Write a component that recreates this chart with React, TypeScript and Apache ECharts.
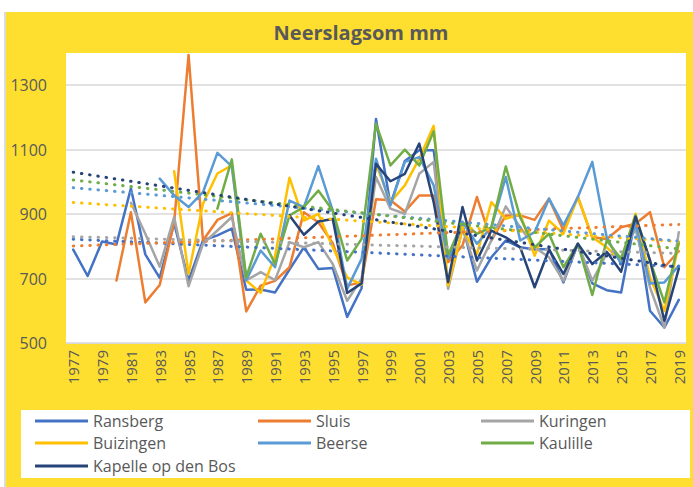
import React, { useEffect, useRef } from "react";
import * as echarts from "echarts";

const years: string[] = [
  "1977","1978","1979","1980","1981","1982","1983","1984","1985","1986",
  "1987","1988","1989","1990","1991","1992","1993","1994","1995","1996",
  "1997","1998","1999","2000","2001","2002","2003","2004","2005","2006",
  "2007","2008","2009","2010","2011","2012","2013","2014","2015","2016",
  "2017","2018","2019",
];

const seriesNames: string[] = ["Ransberg", "Sluis", "Kuringen", "Buizingen", "Beerse", "Kaulille", "Kapelle op den Bos"];
const seriesColors: string[] = ["#4472C4", "#ED7D31", "#A5A5A5", "#FFC000", "#5B9BD5", "#70AD47", "#264478"];

const ransberg: (number | null)[] = [
  790, 708, 815, 806, 980, 775, 702, 872, 694, 818,
  834, 855, 665, 666, 657, 728, 797, 730, 733, 581,
  670, 1195, 930, 1065, 1098, 1098, 752, 865, 690, 766,
  818, 797, 790, 792, 688, 808, 685, 664, 657, 890,
  600, 548, 634,
];
const sluis: (number | null)[] = [
  null, null, null, 694, 906, 626, 680, 874, 1394, 818,
  882, 903, 598, 678, 693, 735, 906, 875, 810, 678,
  689, 946, 943, 908, 958, 958, 751, 803, 953, 818,
  896, 896, 882, 948, 849, 953, 828, 823, 859, 870,
  906, 735, 785,
];
const kuringen: (number | null)[] = [
  null, null, null, null, 935, 839, 737, 891, 676, 808,
  849, 891, 694, 720, 695, 813, 797, 813, 745, 631,
  700, 1015, 917, 901, 1025, 1062, 668, 854, 725, 818,
  924, 859, 797, 766, 693, 808, 693, 777, 766, 854,
  673, 548, 844,
];
const buizingen: (number | null)[] = [
  null, null, null, null, null, null, null, 1033, 714, 932,
  1026, 1051, 694, 656, 770, 1013, 880, 901, 797, 704,
  681, 1056, 937, 989, 1072, 1174, 678, 854, 776, 937,
  885, 901, 771, 880, 839, 953, 828, 797, 756, 901,
  704, 600, 808,
];
const beerse: (number | null)[] = [
  null, null, null, null, null, null, 1010, 958, 922, 968,
  1090, 1048, 694, 787, 735, 942, 922, 1049, 911, 668,
  761, 1072, 927, 1062, 1077, 989, 761, 875, 808, 859,
  1015, 818, 844, 948, 865, 953, 1062, 828, 745, 870,
  685, 688, 740,
];
const kaulille: (number | null)[] = [
  null, null, null, null, null, null, null, null, null, null,
  917, 1070, 704, 839, 745, 896, 922, 973, 911, 756,
  823, 1181, 1051, 1100, 1051, 1157, 772, 875, 839, 859,
  1048, 890, 797, 839, 735, 808, 649, 818, 761, 896,
  756, 626, 813,
];
const kapelle: (number | null)[] = [
  null, null, null, null, null, null, null, null, null, null,
  null, null, null, null, null, 896, 836, 877, 885, 655,
  685, 1056, 1002, 1025, 1119, 937, 689, 922, 756, 849,
  828, 797, 673, 790, 714, 808, 745, 783, 721, 892,
  757, 569, 731,
];

// Trendline values read at 1977 and 2019
const trendStart: number[] = [822, 801, 830, 936, 982, 1006, 1030];
const trendEnd: number[] = [737, 868, 778, 815, 816, 792, 735];

const yTicks: number[] = [500, 700, 900, 1100, 1300];

const allSeries = [ransberg, sluis, kuringen, buizingen, beerse, kaulille, kapelle];

const FONT = "'Open Sans', 'Noto Sans', sans-serif";
const TXT = "#595959";

export default function App() {
  const ref = useRef<HTMLDivElement>(null);

  useEffect(() => {
    if (!ref.current) return;
    const chart = echarts.init(ref.current, undefined, { renderer: "svg" });

    const dataSeries = allSeries.map((d, i) => ({
      type: "line",
      name: seriesNames[i],
      data: d,
      symbol: "none",
      connectNulls: false,
      z: 2,
      lineStyle: { color: seriesColors[i], width: 2.5, cap: "round", join: "round" },
      itemStyle: { color: seriesColors[i] },
    }));

    const trendSeries = seriesNames.map((n, i) => {
      const arr: (number | null)[] = years.map(() => null);
      arr[0] = trendStart[i];
      arr[years.length - 1] = trendEnd[i];
      return {
        type: "line",
        name: n + " trend",
        data: arr,
        symbol: "none",
        connectNulls: true,
        z: 3,
        silent: true,
        lineStyle: { color: seriesColors[i], width: 3, type: [0.5, 7.8], cap: "round" },
      };
    });

    const legendCols = [29, 252, 475];
    const legendRows = [401, 423, 446];
    const legends = seriesNames.map((n, i) => ({
      show: true,
      left: legendCols[i % 3],
      top: legendRows[Math.floor(i / 3)],
      padding: 0,
      itemGap: 0,
      itemWidth: 53,
      itemHeight: 3,
      selectedMode: false,
      textStyle: { fontSize: 16, color: TXT, fontFamily: FONT },
      data: [{ name: n, icon: "rect" }],
    }));

    chart.setOption({
      animation: false,
      backgroundColor: "#FEDF30",
      textStyle: { fontFamily: FONT },
      grid: {
        left: 60,
        top: 41,
        right: 7,
        bottom: 144,
        show: true,
        backgroundColor: "#ffffff",
        borderWidth: 0,
        containLabel: false,
      },
      legend: legends,
      graphic: [
        {
          type: "rect",
          z: 0,
          shape: { x: 15, y: 398, width: 669, height: 68 },
          style: { fill: "#ffffff" },
        },
        {
          type: "text",
          x: 355,
          y: 20,
          style: {
            text: "Neerslagsom mm",
            fill: TXT,
            font: `bold 20px ${FONT}`,
            textAlign: "center",
            textVerticalAlign: "middle",
          },
        },
      ],
      xAxis: {
        type: "category",
        data: years,
        boundaryGap: true,
        axisLine: { show: true, lineStyle: { color: "#d9d9d9", width: 1 } },
        axisTick: { show: false },
        axisLabel: {
          interval: 1,
          rotate: 90,
          margin: 7,
          fontSize: 15,
          color: TXT,
          fontFamily: FONT,
        },
        splitLine: { show: false },
      },
      yAxis: {
        type: "value",
        min: 500,
        max: 1400,
        interval: 100,
        axisLine: { show: false },
        axisTick: { show: false },
        axisLabel: {
          margin: 19,
          fontSize: 16,
          color: TXT,
          fontFamily: FONT,
          formatter: (v: number) => (yTicks.indexOf(v) >= 0 ? String(v) : ""),
        },
        splitLine: {
          show: true,
          lineStyle: { color: ["#d9d9d9", "rgba(0,0,0,0)"], width: 1.5 },
        },
      },
      series: [...dataSeries, ...trendSeries],
    });

    return () => {
      chart.dispose();
    };
  }, []);

  return (
    <div
      style={{
        position: "fixed",
        left: 0,
        top: 0,
        width: 693,
        height: 487,
        background: "#ffffff",
      }}
    >
      <div
        style={{
          position: "absolute",
          left: 4,
          top: 12,
          width: 2,
          height: 475,
          background: "#dcdcdc",
        }}
      />
      <div
        ref={ref}
        style={{ position: "absolute", left: 6, top: 12, width: 687, height: 475 }}
      />
    </div>
  );
}
